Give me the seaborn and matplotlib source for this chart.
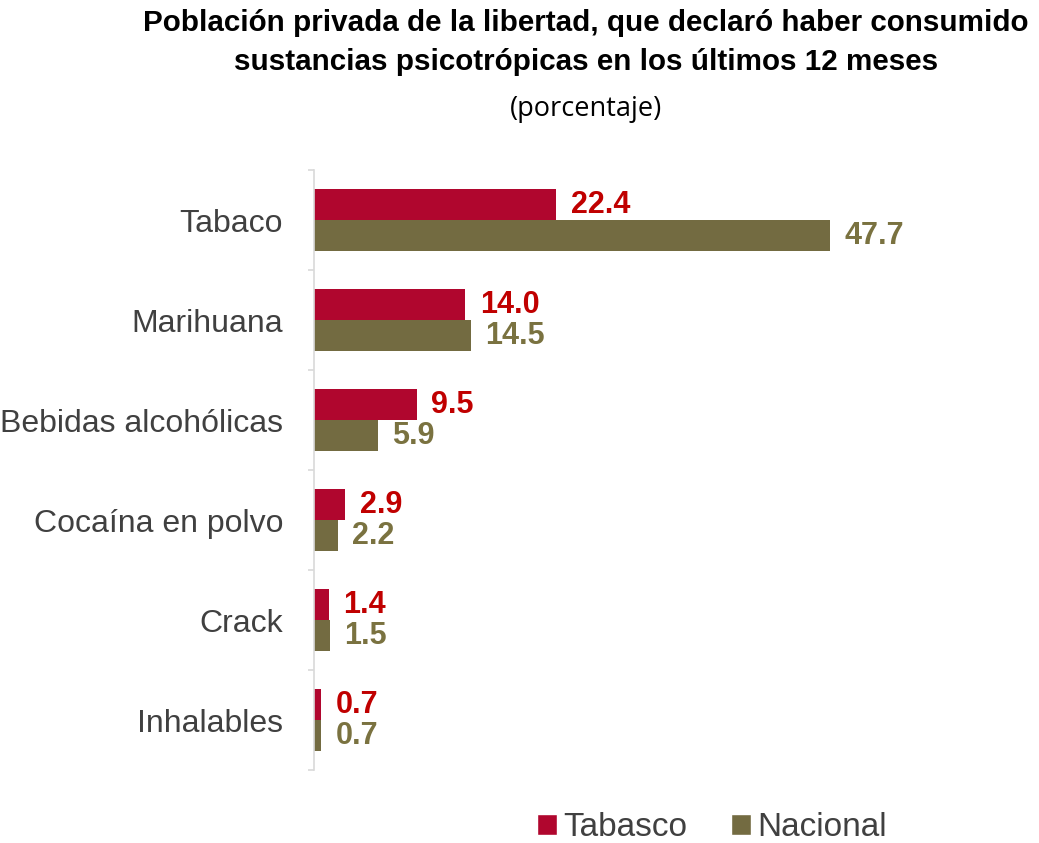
import matplotlib
matplotlib.use("Agg")
import matplotlib.pyplot as plt
import seaborn as sns
import pandas as pd
from matplotlib.patches import Patch

categories = ["Tabaco", "Marihuana", "Bebidas alcohólicas", "Cocaína en polvo", "Crack", "Inhalables"]
tabasco = [22.4, 14.0, 9.5, 2.9, 1.4, 0.7]
nacional = [47.7, 14.5, 5.9, 2.2, 1.5, 0.7]
series = ["Tabasco", "Nacional"]

bar_colors = {"Tabasco": "#B0062E", "Nacional": "#736B41"}
label_colors = {"Tabasco": "#C00000", "Nacional": "#7A7240"}

df = pd.DataFrame({
    "cat": categories * 2,
    "val": tabasco + nacional,
    "serie": ["Tabasco"] * len(categories) + ["Nacional"] * len(categories),
})

sns.set_style("white")
plt.rcParams["font.family"] = ["Liberation Sans", "DejaVu Sans"]

fig = plt.figure(figsize=(10.39, 8.43), dpi=100)
ax = fig.add_axes([0.302, 0.0866, 0.625, 0.7115])

sns.barplot(data=df, y="cat", x="val", hue="serie", hue_order=series, order=categories,
            palette=bar_colors, orient="h", width=0.62, ax=ax, legend=False,
            saturation=1, errorbar=None, linewidth=0)

ax.set_xlim(0, 60)
ax.set_ylim(5.5, -0.5)
ax.set_xlabel("")
ax.set_ylabel("")
ax.set_xticks([])
for s in ["top", "right", "bottom"]:
    ax.spines[s].set_visible(False)
ax.spines["left"].set_color("#D9D9D9")
ax.spines["left"].set_linewidth(1.2)

ax.set_yticks(range(len(categories)))
ax.set_yticklabels(categories, fontsize=23, color="#404040")
ax.tick_params(axis="y", which="major", left=False, length=0, pad=22)
# minor ticks at category boundaries
ax.set_yticks([i - 0.5 for i in range(len(categories) + 1)], minor=True)
ax.tick_params(axis="y", which="minor", left=True, length=4, color="#D9D9D9", width=1.2,
               direction="out")

for container, s in zip(ax.containers, series):
    labels = [f"{v:.1f}" for v in container.datavalues]
    ax.bar_label(container, labels=labels, padding=10.5, fontsize=22, fontweight="bold",
                 color=label_colors[s])

fig.text(0.564, 0.973, "Población privada de la libertad, que declaró haber consumido",
         ha="center", va="center", fontsize=21.3, fontweight="bold", color="black")
fig.text(0.564, 0.926, "sustancias psicotrópicas en los últimos 12 meses",
         ha="center", va="center", fontsize=21.3, fontweight="bold", color="black")
fig.text(0.564, 0.871, "(porcentaje)", ha="center", va="center", fontsize=19.5,
         color="black", family=["Open Sans", "DejaVu Sans"])

handles = [Patch(facecolor=bar_colors[s], label=s) for s in series]
fig.legend(handles=handles, loc="center", bbox_to_anchor=(0.685, 0.018), ncol=2,
           frameon=False, fontsize=24, handlelength=0.6, handleheight=0.6,
           handletextpad=0.2, columnspacing=1.3, labelcolor="#404040")

fig.savefig("out.png", dpi=100)
